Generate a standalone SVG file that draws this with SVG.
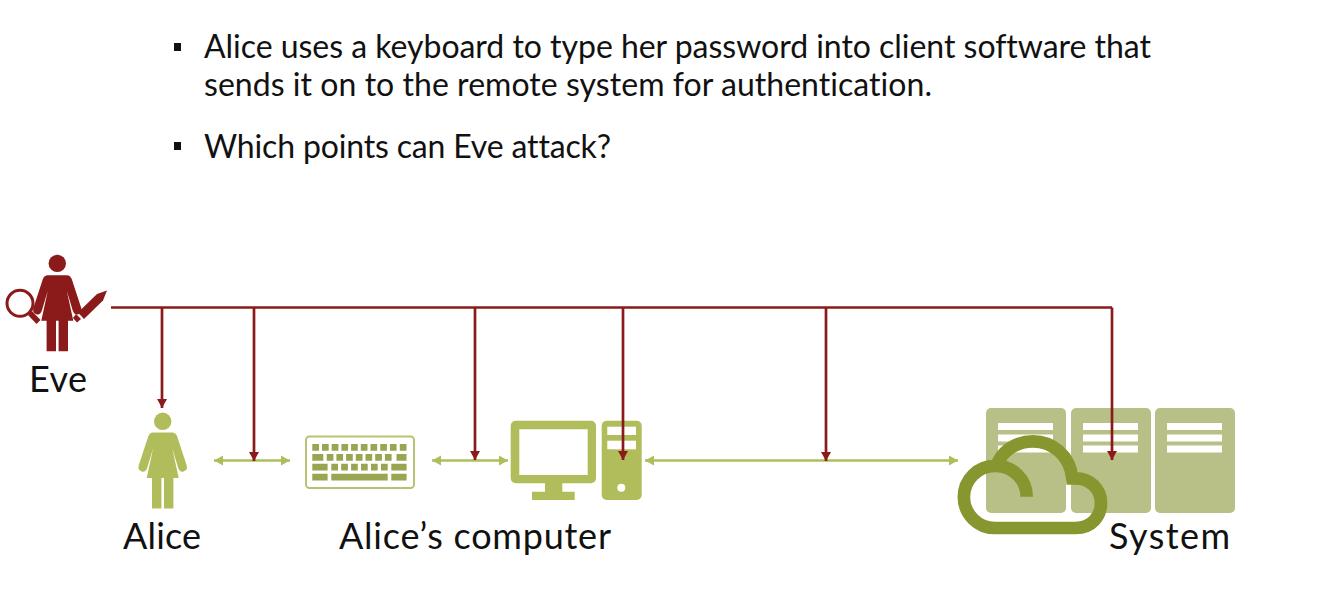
<svg xmlns="http://www.w3.org/2000/svg" width="1332" height="614" viewBox="0 0 1332 614">
<style>
text{font-family:"Lato","Open Sans","Liberation Sans",sans-serif;font-size:32px;fill:#111;font-variant-ligatures:none}
text.l{font-size:36px}
.red{stroke:#8b1a1a;stroke-width:2.7;fill:none}
.grn{stroke:#b1bd5b;stroke-width:2.6;fill:none}
.a{fill:#b1bd5b}.k{fill:#9aa552}.s{fill:#b8c088}.w{fill:#fff}
</style>
<defs>
<path id="person" d="M-9.500 432.500H9.500Q13 432.500 14.500 436.500L24 465.500Q25.200 470 21 471.500Q17 472.500 15.500 468L9.500 448L16 478H10.700V508.500H1.300V478H-1.300V508.500H-10.700V478H-16L-9.500 448L-15.500 468Q-17 472.500-21 471.500Q-25.200 470-24 465.500L-14.500 436.500Q-13 432.500-9.500 432.500Z"/>
<marker id="ar" markerUnits="userSpaceOnUse" markerWidth="12" markerHeight="12" refX="9" refY="6" orient="auto"><path d="M0 1L9 6L0 11Z" fill="#8b1a1a"/></marker>
<marker id="ag" markerUnits="userSpaceOnUse" markerWidth="12" markerHeight="12" refX="9" refY="6" orient="auto-start-reverse"><path d="M0 1L9 6L0 11Z" fill="#b1bd5b"/></marker>
</defs>
<g id="bullets">
<rect x="174" y="43" width="7" height="8" fill="#111"/>
<rect x="174" y="142" width="7" height="8" fill="#111"/>
<text x="204" y="58" textLength="947">Alice uses a keyboard to type her password into client software that</text>
<text x="204" y="96" textLength="728">sends it on to the remote system for authentication.</text>
<text x="204" y="158" textLength="407">Which points can Eve attack?</text>
</g>
<g id="alice">
<circle class="a" cx="162.700" cy="421.300" r="8.700"/>
<use href="#person" x="162.700" class="a"/>
<text class="l" x="123" y="549" textLength="78">Alice</text>
</g>
<g id="keyboard">
<rect x="306" y="436.500" width="108" height="51.500" rx="3.500" fill="#fff" stroke="#b8c272" stroke-width="2"/>
<path class="k" d="M312.300 444h6.700v6.700h-6.700zM322 444h6.700v6.700h-6.700zM331.700 444h6.700v6.700h-6.700zM341.400 444h6.700v6.700h-6.700zM351.100 444h6.700v6.700h-6.700zM360.800 444h6.700v6.700h-6.700zM370.500 444h6.700v6.700h-6.700zM380.200 444h6.700v6.700h-6.700zM389.900 444h6.700v6.700h-6.700zM399.800 444h6.700v6.700h-6.700zM312.300 454h11v6.700h-11zM326.700 454h6.700v6.700h-6.700zM336.400 454h6.700v6.700h-6.700zM346.100 454h6.700v6.700h-6.700zM355.800 454h6.700v6.700h-6.700zM365.500 454h6.700v6.700h-6.700zM375.200 454h6.700v6.700h-6.700zM384.900 454h6.700v6.700h-6.700zM396.500 454h10v6.700h-10zM312.300 463.700h15.300v6.700h-15.300zM331.300 463.700h6.700v6.700h-6.700zM341.200 463.700h6.700v6.700h-6.700zM351.100 463.700h6.700v6.700h-6.700zM361 463.700h6.700v6.700h-6.700zM371 463.700h6.700v6.700h-6.700zM381 463.700h6.700v6.700h-6.700zM391.300 463.700h15.300v6.700h-15.300zM312.300 473.700h15.300v6.700h-15.300zM331.300 473.700h56.400v6.700h-56.400zM391.300 473.700h15.300v6.700h-15.300z"/>
</g>
<g id="computer">
<path class="a" fill-rule="evenodd" d="M515.700 420.700H591a5 5 0 0 1 5 5V478.300a5 5 0 0 1-5 5H562.300V491.700H574.700V500H532V491.700H545V483.300H515.700a5 5 0 0 1-5-5V425.700a5 5 0 0 1 5-5ZM519.300 429.300V475H587.700V429.300Z"/>
<rect class="a" x="601.700" y="420.700" width="40" height="79.300" rx="5"/>
<rect class="w" x="607.300" y="426.700" width="28.700" height="8.300"/>
<rect class="w" x="607.300" y="440.700" width="28.700" height="8.600"/>
<circle class="w" cx="621.300" cy="487.700" r="4"/>
<text class="l" x="339" y="549" textLength="272">Alice’s computer</text>
</g>
<g id="system">
<rect class="s" x="986" y="408" width="80" height="105" rx="5"/>
<rect class="s" x="1071" y="408" width="80" height="105" rx="5"/>
<rect class="s" x="1155" y="408" width="80" height="105" rx="5"/>
<path class="w" d="M998 423h55v7h-55zM998 434.500h55v7h-55zM998 445.500h55v7h-55zM1083 423h55v7h-55zM1083 434.500h55v7h-55zM1083 445.500h55v7h-55zM1167 423h55v7h-55zM1167 434.500h55v7h-55zM1167 445.500h55v7h-55z"/>
<path fill="none" stroke="#87962f" stroke-width="12.700" d="M1026.700 496.700A31 31 0 0 0 995 465.800A31 31 0 0 0 995 528H1075.500C1092 528 1101 516 1101 503C1101 489 1090 478.300 1075.500 478.300H1072.300C1070 455 1052 441.300 1033 441.300C1015 441.300 1001 452 996 467"/>
<text class="l" x="1109" y="549" textLength="121">System</text>
</g>
<g id="connectors">
<path class="grn" marker-start="url(#ag)" marker-end="url(#ag)" d="M214 460.500H290"/>
<path class="grn" marker-start="url(#ag)" marker-end="url(#ag)" d="M432 460.500H508"/>
<path class="grn" marker-start="url(#ag)" marker-end="url(#ag)" d="M645 460.500H958"/>
<path class="red" d="M111 307.500H1112"/>
<path class="red" marker-end="url(#ar)" d="M162 307.500V408"/>
<path class="red" marker-end="url(#ar)" d="M254 307.500V461"/>
<path class="red" marker-end="url(#ar)" d="M475 307.500V460"/>
<path class="red" marker-end="url(#ar)" d="M623 307.500V460"/>
<path class="red" marker-end="url(#ar)" d="M826 307.500V461"/>
<path class="red" marker-end="url(#ar)" d="M1112 307.500V460"/>
</g>
<g id="eve">
<circle cx="57.300" cy="263.400" r="8.700" fill="#8b1a1a"/>
<use href="#person" x="57.300" y="-157.300" fill="#8b1a1a"/>
<circle cx="20" cy="303.300" r="13" fill="none" stroke="#8b1a1a" stroke-width="3"/>
<path d="M30 313L38.500 322" stroke="#8b1a1a" stroke-width="5.500" fill="none"/>
<path d="M78 312.500L97 294L107 290.500L103 300.500L84 319Z" fill="#8b1a1a"/>
<path d="M73 318L77 322.500L81 319L76 314Z" fill="#8b1a1a"/>
<text class="l" x="29" y="392" textLength="58">Eve</text>
</g>
</svg>
